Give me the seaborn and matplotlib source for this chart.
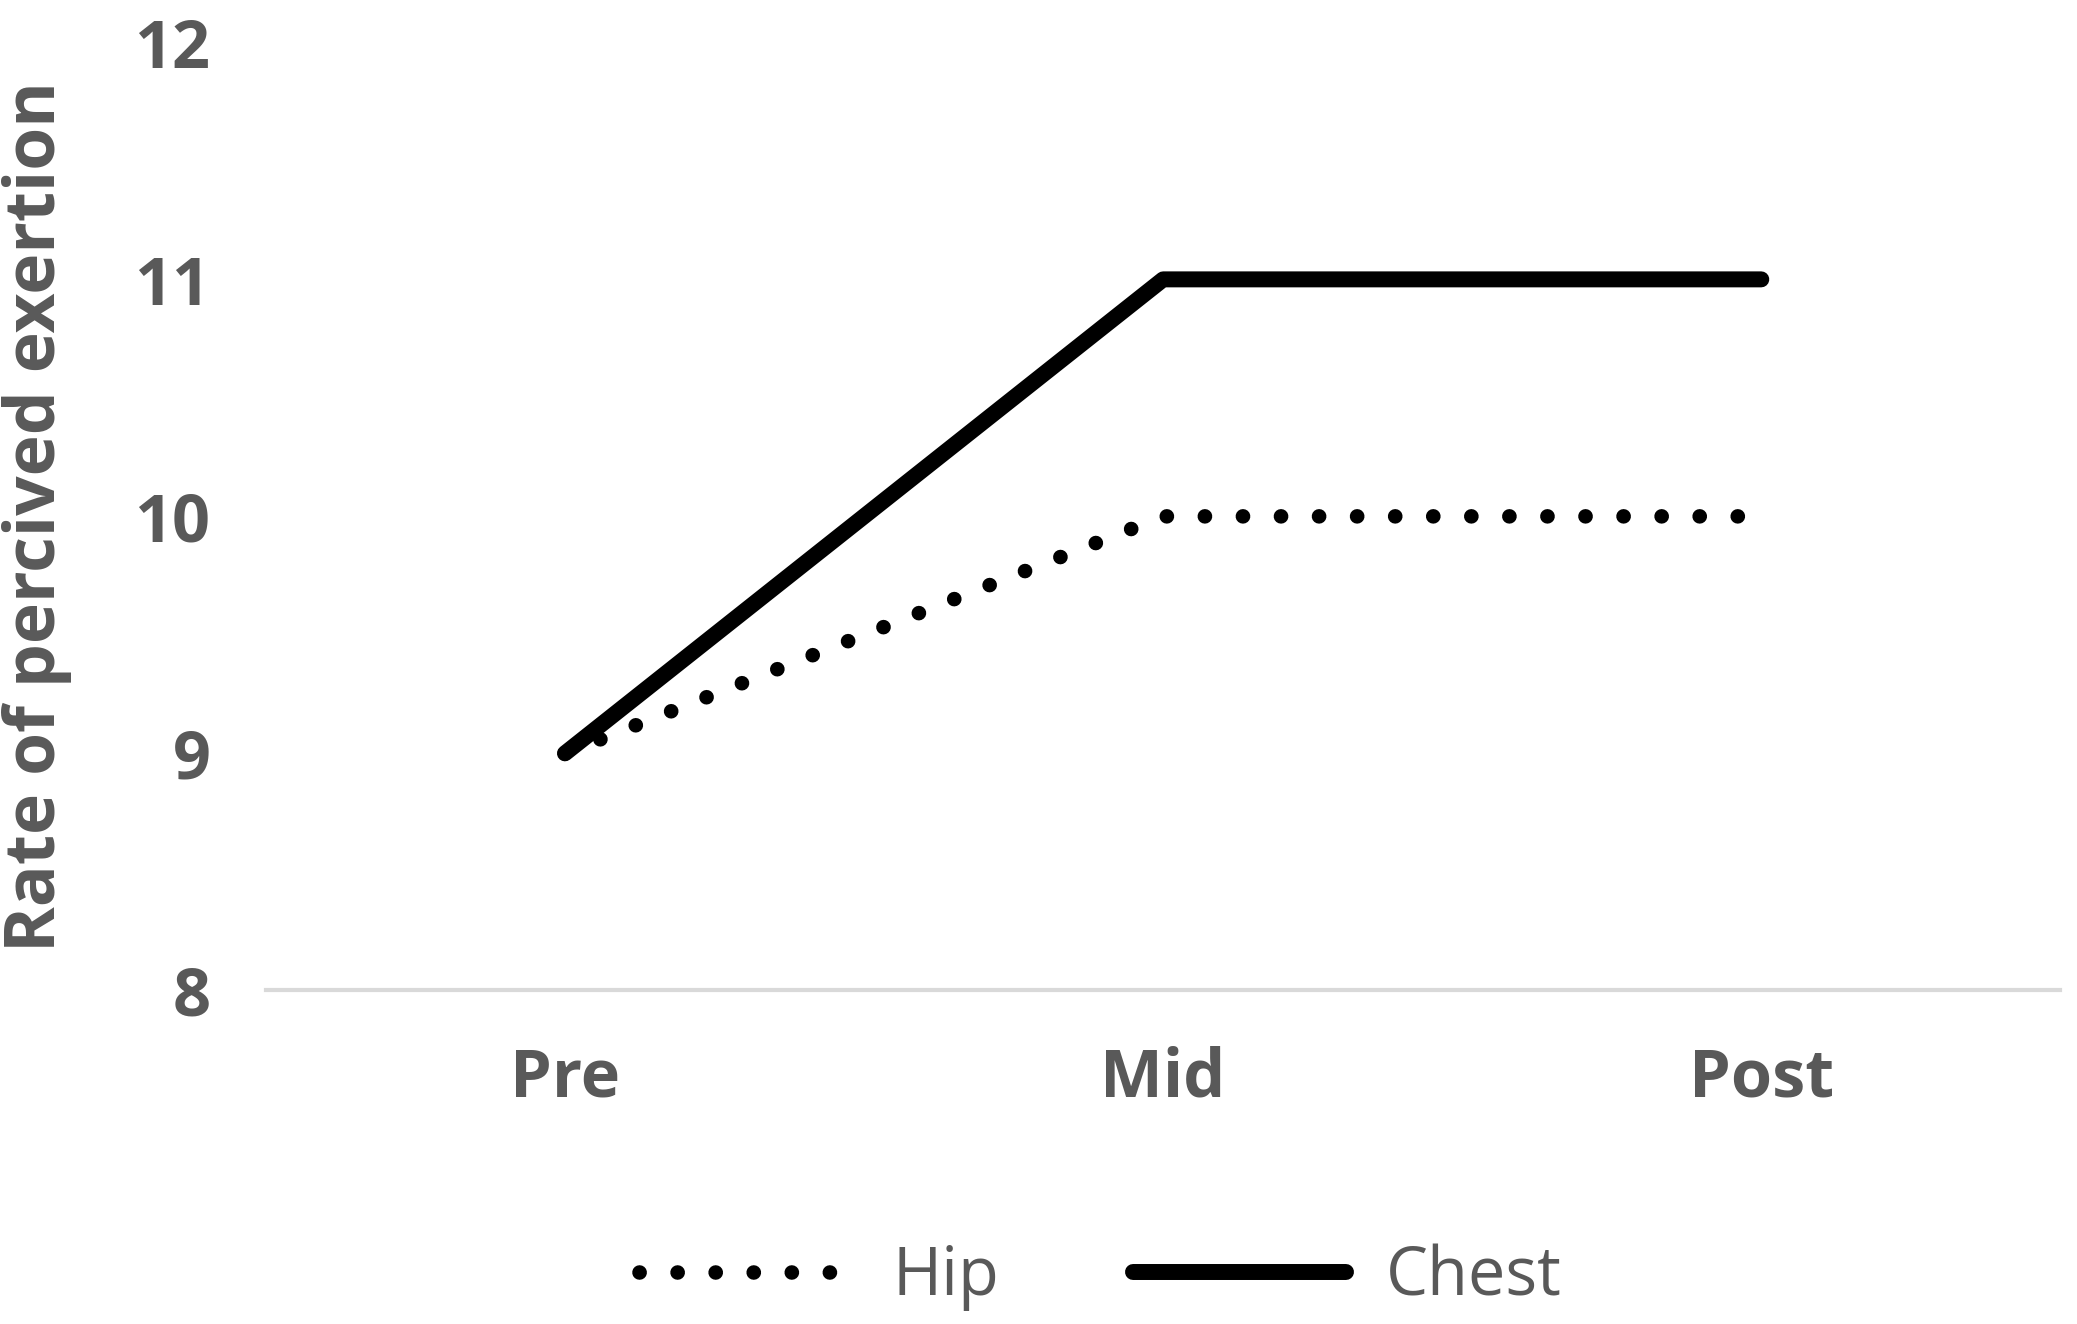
import matplotlib.pyplot as plt
import seaborn as sns
import pandas as pd

times = ['Pre', 'Mid', 'Post']
hip = [9, 10, 10]
chest = [9, 11, 11]

sns.set_style("white")
plt.rcParams['font.family'] = ['Open Sans', 'DejaVu Sans']
gris = '#595959'

df = pd.DataFrame({'Temps': times * 2, 'RPE': hip + chest,
                   'Position': ['Hip'] * 3 + ['Chest'] * 3})

fig = plt.figure(figsize=(20.77, 13.24), dpi=100)
ax = fig.add_axes([0.128, 0.252, 0.864, 0.716])

sns.lineplot(data=df, x='Temps', y='RPE', hue='Position', style='Position',
             palette={'Hip': 'black', 'Chest': 'black'},
             dashes={'Hip': (0.01, 2.6), 'Chest': ''}, sort=False, ax=ax)
lines = ax.get_lines()
lines[0].set_linewidth(10.5)
lines[0].set_dash_capstyle('round')
lines[1].set_linewidth(11.5)
lines[1].set_solid_capstyle('round')

ax.set_xlim(-0.5, 2.5)
ax.set_ylim(8, 12)
ax.set_yticks([8, 9, 10, 11, 12])
ax.set_xlabel('')
ax.set_ylabel('Rate of percived exertion', fontsize=50, fontweight='bold',
              color=gris, labelpad=45)
ax.tick_params(axis='both', length=0, labelsize=48, labelcolor=gris, pad=40)
for lab in ax.get_xticklabels() + ax.get_yticklabels():
    lab.set_fontweight('bold')
for s in ['top', 'right', 'left']:
    ax.spines[s].set_visible(False)
ax.spines['bottom'].set_color('#d9d9d9')
ax.spines['bottom'].set_linewidth(3)

handles, labels = ax.get_legend_handles_labels()
ax.legend_.remove()
for h in handles:
    h.set_dash_capstyle('round')
    h.set_solid_capstyle('round')
handles[0].set_linewidth(10.5)
handles[1].set_linewidth(11.5)
fig.legend(handles, labels, loc='center', bbox_to_anchor=(0.53, 0.035), ncol=2,
           frameon=False, fontsize=48, labelcolor=gris, handlelength=3.2,
           handletextpad=0.6, columnspacing=2)

plt.savefig('out.png', dpi=100)
plt.close()
